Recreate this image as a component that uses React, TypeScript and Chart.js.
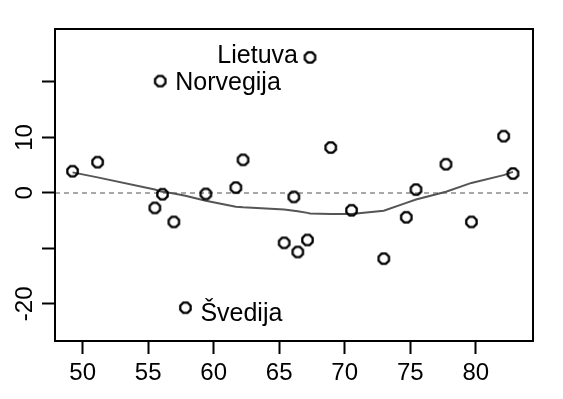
import React, { useEffect, useRef } from "react";
import { Chart, registerables } from "chart.js";

Chart.register(...registerables);

// Scatter points (x, y)
const xValues = [49.23, 51.14, 55.92, 55.51, 56.09, 56.96, 57.84, 59.4, 61.69, 62.24, 65.38, 66.12, 66.42, 67.16, 67.35, 68.93, 70.52, 72.98, 74.7, 75.44, 77.73, 79.67, 82.13, 82.84];
const yValues = [3.91, 5.54, 20.16, -2.71, -0.24, -5.23, -20.7, -0.18, 0.96, 5.96, -9.0, -0.72, -10.65, -8.48, 24.43, 8.18, -3.13, -11.85, -4.39, 0.6, 5.17, -5.23, 10.23, 3.49];

// Smoothed (lowess) curve
const smoothX = [49.23, 51.14, 55.51, 55.92, 56.09, 56.96, 57.84, 59.4, 61.69, 62.24, 65.38, 66.12, 66.42, 67.16, 67.35, 68.93, 70.52, 72.98, 74.7, 75.44, 77.73, 79.67, 82.13, 82.84];
const smoothY = [3.7, 2.8, 0.6, 0.3, 0.2, -0.1, -0.5, -1.4, -2.5, -2.6, -3.0, -3.2, -3.3, -3.6, -3.7, -3.8, -3.8, -3.2, -1.8, -1.2, 0.2, 1.8, 3.2, 3.8];

// Labelled points
const labelNames = ["Lietuva", "Norvegija", "Švedija"];
const labelIndex = [14, 2, 6];
const labelSide = ["left", "right", "right"];

// Axes
const xTicks = [50, 55, 60, 65, 70, 75, 80];
const yTicks = [-20, -10, 0, 10, 20];
const yTickLabels = ["-20", "", "0", "10", ""];
const xRange = [47.89, 84.37];
const yRange = [-26.7, 29.55];
const refLineY = 0;

const FONT = "'Liberation Sans', Arial, sans-serif";

function makeMarker(): HTMLCanvasElement {
  const c = document.createElement("canvas");
  c.width = 15;
  c.height = 15;
  const ctx = c.getContext("2d")!;
  const cx = 7.5, cy = 7.5, r = 5.6;
  ctx.strokeStyle = "#000";
  ctx.lineWidth = 2.3;
  ctx.beginPath();
  for (let k = 0; k < 8; k++) {
    const a = (Math.PI / 8) + (k * Math.PI) / 4;
    const px = cx + r * Math.cos(a);
    const py = cy + r * Math.sin(a);
    if (k === 0) ctx.moveTo(px, py);
    else ctx.lineTo(px, py);
  }
  ctx.closePath();
  ctx.stroke();
  return c;
}

export default function App() {
  const canvasRef = useRef<HTMLCanvasElement | null>(null);

  useEffect(() => {
    const canvas = canvasRef.current;
    if (!canvas) return;
    const marker = makeMarker();

    const overlay = {
      id: "overlay",
      beforeDatasetsDraw(chart: any) {
        const { ctx, chartArea, scales } = chart;
        const y0 = scales.y.getPixelForValue(refLineY);
        ctx.save();
        ctx.strokeStyle = "#a8a8a8";
        ctx.lineWidth = 2;
        ctx.setLineDash([5, 4]);
        ctx.beginPath();
        ctx.moveTo(chartArea.left, y0);
        ctx.lineTo(chartArea.right, y0);
        ctx.stroke();
        ctx.restore();
      },
      afterDraw(chart: any) {
        const { ctx, chartArea, scales } = chart;
        ctx.save();
        // box
        ctx.strokeStyle = "#000";
        ctx.lineWidth = 2;
        ctx.strokeRect(chartArea.left, chartArea.top, chartArea.right - chartArea.left, chartArea.bottom - chartArea.top);
        // y tick labels (rotated)
        ctx.fillStyle = "#000";
        ctx.font = `24px ${FONT}`;
        ctx.textAlign = "center";
        ctx.textBaseline = "middle";
        yTicks.forEach((v, i) => {
          const t = yTickLabels[i];
          if (!t) return;
          const py = scales.y.getPixelForValue(v);
          ctx.save();
          ctx.translate(25, py);
          ctx.rotate(-Math.PI / 2);
          ctx.fillText(t, 0, 0);
          ctx.restore();
        });
        // point labels
        ctx.font = `25px ${FONT}`;
        labelNames.forEach((name, i) => {
          const idx = labelIndex[i];
          const px = scales.x.getPixelForValue(xValues[idx]);
          const py = scales.y.getPixelForValue(yValues[idx]);
          if (labelSide[i] === "left") {
            ctx.textAlign = "right";
            ctx.fillText(name, px - 12, py - 1);
          } else {
            ctx.textAlign = "left";
            ctx.fillText(name, px + 15, py + (name === "Švedija" ? 6 : 2));
          }
        });
        ctx.restore();
      },
    };

    const chart = new Chart(canvas, {
      type: "scatter",
      data: {
        datasets: [
          {
            type: "scatter",
            data: xValues.map((x, i) => ({ x, y: yValues[i] })),
            pointStyle: marker,
            pointRadius: 6,
            borderColor: "#000",
            backgroundColor: "transparent",
            order: 1,
          } as any,
          {
            type: "line",
            data: smoothX.map((x, i) => ({ x, y: smoothY[i] })),
            showLine: true,
            pointRadius: 0,
            borderColor: "#555555",
            borderWidth: 2,
            fill: false,
            tension: 0,
            order: 2,
          } as any,
        ],
      },
      options: {
        responsive: false,
        animation: false,
        devicePixelRatio: 1,
        layout: { padding: { top: 29, right: 30, left: 0, bottom: 0 } },
        plugins: {
          legend: { display: false },
          tooltip: { enabled: false },
        },
        scales: {
          x: {
            type: "linear",
            min: xRange[0],
            max: xRange[1],
            afterBuildTicks: (s: any) => {
              s.ticks = xTicks.map((v) => ({ value: v }));
            },
            afterFit: (s: any) => {
              s.height = 58;
            },
            ticks: {
              font: { size: 24, family: FONT },
              color: "#000",
              padding: 5,
              maxRotation: 0,
              autoSkip: false,
              callback: (v: any) => String(v),
            },
            grid: {
              drawOnChartArea: false,
              drawTicks: true,
              tickLength: 13,
              tickWidth: 2,
              tickColor: "#000",
            },
            border: { display: false },
          },
          y: {
            type: "linear",
            min: yRange[0],
            max: yRange[1],
            afterBuildTicks: (s: any) => {
              s.ticks = yTicks.map((v) => ({ value: v }));
            },
            afterFit: (s: any) => {
              s.width = 55;
            },
            ticks: { display: false },
            grid: {
              drawOnChartArea: false,
              drawTicks: true,
              tickLength: 13,
              tickWidth: 2,
              tickColor: "#000",
            },
            border: { display: false },
          },
        },
      },
      plugins: [overlay],
    } as any);

    return () => chart.destroy();
  }, []);

  return (
    <div style={{ position: "absolute", left: 0, top: 0, width: 563, height: 399, background: "#fff" }}>
      <canvas ref={canvasRef} width={563} height={399} style={{ display: "block" }} />
    </div>
  );
}
